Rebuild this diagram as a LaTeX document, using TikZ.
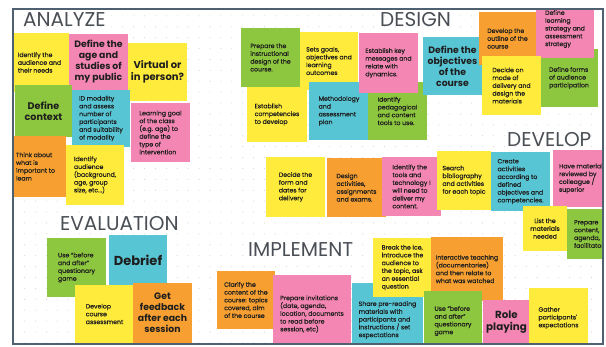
\documentclass[tikz,border=0pt]{standalone}
\usepackage{fontspec}
\setmainfont{Poppins}
\newfontfamily\popsmall{Poppins}[FakeBold=0.35]
\newfontfamily\poptitle{Poppins}
\definecolor{sy}{HTML}{FFEB3B}
\definecolor{sp}{HTML}{F386B2}
\definecolor{sg}{HTML}{8DC63F}
\definecolor{sc}{HTML}{58C5D4}
\definecolor{so}{HTML}{F7A031}
\definecolor{framec}{HTML}{4F6070}
\definecolor{titlec}{HTML}{4A4F55}
\definecolor{dotc}{HTML}{D4D4D4}
\definecolor{inkc}{HTML}{1E1E1E}
\tikzset{
  notebox/.style={inner sep=0pt, outer sep=0pt, draw=none, text=inkc},
  small/.style={font=\popsmall\fontsize{6.2}{7.8}\selectfont, align=left},
  smallc/.style={font=\popsmall\fontsize{6.2}{7.8}\selectfont, align=center},
  big/.style={font=\bfseries\fontsize{9.3}{11}\selectfont, align=center},
  title/.style={font=\poptitle\fontsize{20}{20}\selectfont, text=titlec, anchor=base west, inner sep=0pt},
  frameline/.style={draw=framec, line width=2.4pt}
}
\newcommand\sticky[8]{%
  \node[notebox, fill=#6, minimum width={#4pt-#2pt}, minimum height={#5pt-#3pt}, #7]
    (#1) at ({(#2+#4)/2},{(#3+#5)/2}) {#8};}
\begin{document}
\begin{tikzpicture}[x=1pt,y=-1pt]
\path[use as bounding box, fill=white] (0,0) rectangle (606,347);
\begin{scope}
\clip (13,9) rectangle (603,344);
\foreach \i in {0,...,55} \foreach \j in {0,...,31}
  \fill[dotc] ({2.9+10.9*\i},{5+10.9*\j}) circle (0.55pt);
% titles
\node[title] (tAnalyze) at (23,27) {ANALYZE};
\node[title] (tDesign) at (380,27) {DESIGN};
\node[title] (tDevelop) at (507,147) {DEVELOP};
\node[title] (tEval) at (60,231) {EVALUATION};
\node[title] (tImpl) at (248,257) {IMPLEMENT};
% ANALYZE
\sticky{a1}{10}{33}{69}{92}{sy}{small}{Identify the\\audience and\\their needs}
\sticky{a2}{69}{34}{128}{90}{sp}{big}{Define the\\age and\\studies of\\my public}
\sticky{a3}{128}{43}{187}{101}{sy}{big, font=\bfseries\fontsize{10}{11.7}\selectfont}{Virtual or\\in person?}
\sticky{a4}{15}{85}{72}{137}{sg}{big, font=\bfseries\fontsize{9.6}{11}\selectfont}{Define\\context}
\sticky{a5}{72}{90}{130}{147}{sc}{small}{ID modality\\and assess\\number of\\participants\\and suitability\\of modality}
\sticky{a6}{131}{103}{190}{162}{sp}{small}{Learning goal\\of the class\\(e.g. age) to\\define the\\type of\\intervention}
\sticky{a7}{5}{136}{66}{197}{so}{small}{Think about\\what is\\important to\\learn}
\sticky{a8}{66}{145}{124}{205}{sy}{small}{Identify\\audience\\(background,\\age, group\\size, etc...)}
% EVALUATION
\sticky{e1}{47}{238}{106}{297}{sg}{small}{Use “before\\and after”\\questionary\\game}
\sticky{e2}{109}{235}{167}{285}{sc}{big, font=\bfseries\fontsize{13}{14}\selectfont}{Debrief}
\sticky{e3}{75}{285}{134}{343}{sy}{small}{Develop\\course\\assessment}
\sticky{e4}{133}{283}{192}{343}{so}{big}{Get\\feedback\\after each\\session}
% DESIGN
\sticky{d1}{241}{28}{300}{87}{sg}{small}{Prepare the\\instructional\\design of the\\course.}
\sticky{d2}{300}{32}{358}{90}{sy}{small}{Sets goals,\\objectives and\\learning\\outcomes}
\sticky{d4}{247}{87}{307}{142}{sy}{small}{Establish\\competencies\\to develop}
\sticky{d5}{309}{82}{369}{140}{sc}{small}{Methodology\\and\\assessment\\plan}
\sticky{d6}{368}{82}{427}{140}{sg}{small}{Identify\\pedagogical\\and content\\tools to use.}
\sticky{d3}{359}{33}{418}{93}{sp}{small}{Establish key\\messages and\\relate with\\dynamics.}
\sticky{d7}{423}{37}{482}{95}{sc}{big}{Define the\\objectives\\of the\\course}
\sticky{d8}{479}{12}{536}{65}{so}{small}{Develop the\\outline of the\\course}
\sticky{d10}{540}{49}{598}{107}{sg}{small}{Define forms\\of audience\\participation}
\sticky{d9}{536}{0}{594}{58}{sp}{small}{Define\\learning\\strategy and\\assessment\\strategy}
\sticky{d11}{482}{56}{541}{115}{sy}{small}{Decide on\\mode of\\delivery and\\design the\\materials}
% DEVELOP
\sticky{v1}{266}{157}{325}{217}{sy}{small}{Decide the\\form and\\dates for\\delivery}
\sticky{v2}{327}{158}{386}{217}{so}{small}{Design\\activities,\\assignments\\and exams.}
\sticky{v3}{382}{157}{441}{216}{sp}{small}{Identify the\\tools and\\technology I\\will need to\\deliver my\\content.}
\sticky{v4}{437}{151}{491}{210}{sy}{small}{Search\\bibliography\\and activities\\for each topic}
\sticky{v5}{491}{152}{550}{211}{sc}{small}{Create\\activities\\according to\\defined\\objectives and\\competencies.}
\sticky{v6}{553}{150}{612}{207}{sp}{small}{Have materials\\reviewed by\\colleague /\\superior}
\sticky{v7}{523}{206}{567}{251}{sy}{smallc}{List the\\materials\\needed}
\sticky{v8}{567}{209}{614}{259}{sg}{small}{Prepare\\content,\\agenda,\\facilitators}
% IMPLEMENT
\sticky{i1}{217}{271}{275}{329}{so}{small}{Clarify the\\content of the\\course: topics\\covered, aim\\of the course}
\sticky{i2}{273}{275}{351}{353}{sp}{small}{Prepare invitations\\(date, agenda,\\location, documents\\to read before\\session, etc)}
\sticky{i3}{352}{283}{423}{357}{sc}{small}{Share pre-reading\\materials with\\participants and\\instructions / set\\expectations}
\sticky{i4}{373}{238}{432}{297}{sy}{small}{Break the ice,\\introduce the\\audience to\\the topic, ask\\an essential\\question}
\sticky{i5}{431}{237}{503}{301}{so}{small}{Interactive teaching\\(documentaries)\\and then relate to\\what was watched}
\sticky{i6}{424}{291}{482}{351}{sg}{small}{Use “before\\and after”\\questionary\\game}
\sticky{i7}{483}{300}{530}{345}{sp}{big, font=\bfseries\fontsize{10.3}{12}\selectfont}{Role\\playing}
\sticky{i8}{529}{288}{588}{348}{sy}{small}{Gather\\participants'\\expectations}
\end{scope}
\draw[frameline] (13,9) rectangle (603,344);
\end{tikzpicture}
\end{document}
